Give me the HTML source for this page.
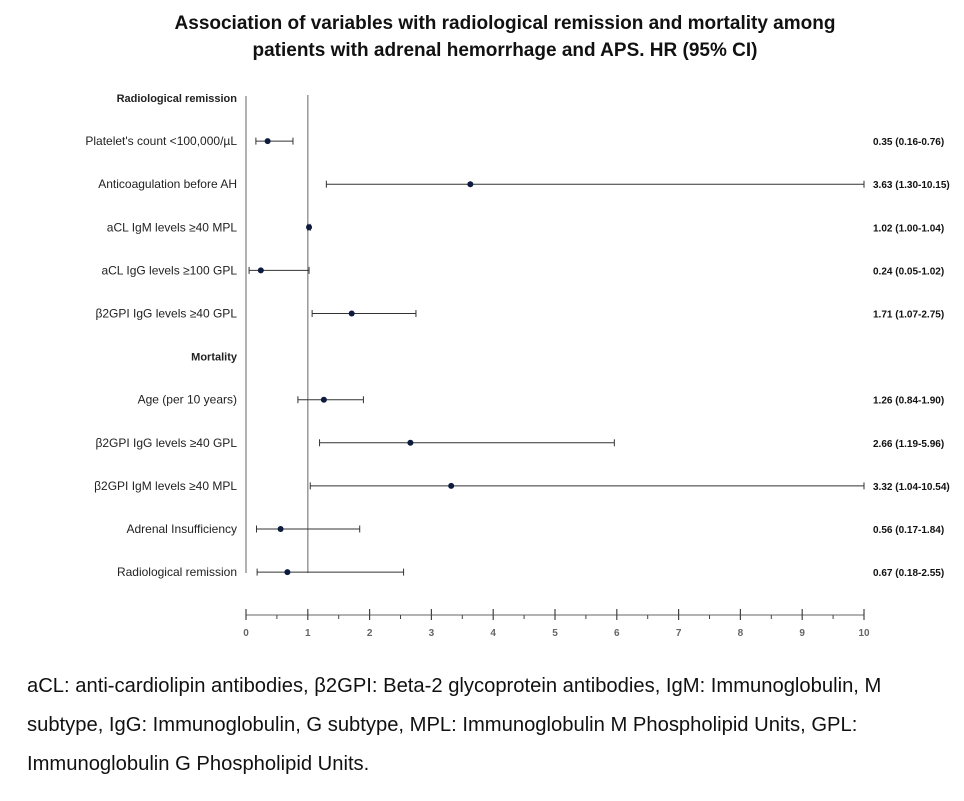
<!DOCTYPE html>
<html><head><meta charset="utf-8">
<style>
body{margin:0;background:#fff;width:964px;height:801px;overflow:hidden;font-family:"Liberation Sans",sans-serif;}
.title{position:absolute;left:0;width:1010px;top:10px;text-align:center;font-weight:bold;font-size:19px;line-height:27px;color:#111;}
.foot{position:absolute;left:27px;top:667px;width:930px;font-size:20.2px;line-height:39px;color:#111;white-space:nowrap;}
</style></head><body>
<div class="title">Association of variables with radiological remission and mortality among<br>patients with adrenal hemorrhage and APS. HR (95% CI)</div>
<svg id="chart" width="964" height="660" style="position:absolute;left:0;top:0"></svg>
<div class="foot">aCL: anti-cardiolipin antibodies, β2GPI: Beta-2 glycoprotein antibodies, IgM: Immunoglobulin, M<br>subtype, IgG: Immunoglobulin, G subtype, MPL: Immunoglobulin M Phospholipid Units, GPL:<br>Immunoglobulin G Phospholipid Units.</div>
<script>
const labels=["Radiological remission","Platelet's count <100,000/µL","Anticoagulation before AH","aCL IgM levels  ≥40 MPL","aCL IgG levels  ≥100 GPL","β2GPI IgG levels  ≥40 GPL","Mortality","Age (per 10 years)","β2GPI IgG levels  ≥40 GPL","β2GPI IgM levels  ≥40 MPL","Adrenal Insufficiency","Radiological remission"];
const hr=[null,0.35,3.63,1.02,0.24,1.71,null,1.26,2.66,3.32,0.56,0.67];
const lo=[null,0.16,1.30,1.00,0.05,1.07,null,0.84,1.19,1.04,0.17,0.18];
const hi=[null,0.76,10.15,1.04,1.02,2.75,null,1.90,5.96,10.54,1.84,2.55];
const ticks=[0,1,2,3,4,5,6,7,8,9,10];
const NS="http://www.w3.org/2000/svg";
const svg=document.getElementById('chart');
const x=v=>246+Math.min(v,10)*61.8;
const y=i=>98+i*43.1;
function mk(t,a,txt){const e=document.createElementNS(NS,t);for(const k in a)e.setAttribute(k,a[k]);if(txt!=null)e.textContent=txt;svg.appendChild(e);return e;}
let e;
e=mk('line',{x1:246,y1:96,x2:246,y2:573,stroke:'#999','stroke-width':1.5});


e=mk('line',{x1:x(1),y1:95,x2:x(1),y2:573,stroke:'#999','stroke-width':1.5});


e=mk('line',{x1:246,y1:615,x2:864,y2:615,stroke:'#999','stroke-width':1.5});


ticks.forEach(t=>{
 e=mk('line',{x1:x(t),y1:609,x2:x(t),y2:620,stroke:'#444','stroke-width':1.2});
 
 
 if(t<10){e=mk('line',{x1:x(t+0.5),y1:615,x2:x(t+0.5),y2:619,stroke:'#444','stroke-width':1});
 
 }
 e=mk('text',{x:x(t),y:636,'text-anchor':'middle','font-size':10,'font-weight':'bold',fill:'#666'},String(t));
 
 
});
labels.forEach((l,i)=>{
 const head=hr[i]==null;
 e=mk('text',{x:237,y:y(i)+4,'text-anchor':'end','font-size':head?11:12,'font-weight':head?'bold':'normal',fill:'#222','xml:space':'preserve'},l);
 
 
 if(head)return;
 const yy=y(i);
 e=mk('line',{x1:x(lo[i]),y1:yy,x2:x(hi[i]),y2:yy,stroke:'#333','stroke-width':1});
 
 
 [lo[i],hi[i]].forEach(v=>{e=mk('line',{x1:x(v),y1:yy-3.5,x2:x(v),y2:yy+3.5,stroke:'#333','stroke-width':1});
 
 });
 e=mk('circle',{cx:x(hr[i]),cy:yy,r:3,fill:'#0d1b3e'});
 
 
 const f=v=>v.toFixed(2);
 e=mk('text',{x:873,y:yy+4,'font-size':10,'font-weight':'bold',fill:'#111'},`${f(hr[i])} (${f(lo[i])}-${f(hi[i])})`);
 
 
});
</script>
</body></html>
